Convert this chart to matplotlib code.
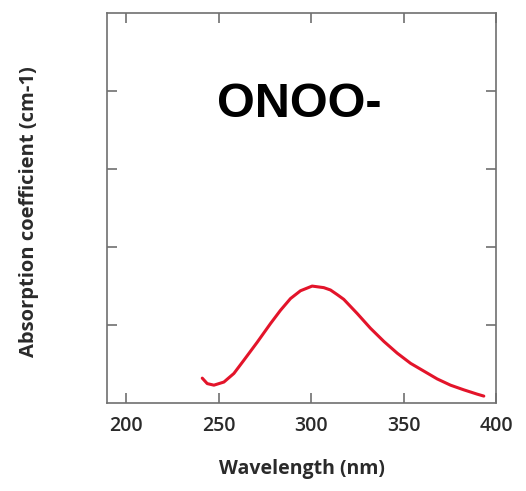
import numpy as np
import matplotlib
matplotlib.use("Agg")
import matplotlib.pyplot as plt

# ONOO- absorption spectrum
wavelength = [241.2, 243.9, 247.5, 252.9, 258.3, 263.7, 270.9, 278.1, 283.5,
              288.9, 294.3, 300.6, 306.9, 310.5, 314.2, 317.7, 324.9, 332.1,
              339.4, 346.6, 353.8, 361.0, 368.2, 375.4, 382.6, 389.8, 393.4]
absorption = [0.32, 0.25, 0.23, 0.27, 0.38, 0.55, 0.78, 1.02, 1.19,
              1.34, 1.44, 1.50, 1.48, 1.45, 1.39, 1.33, 1.15, 0.96,
              0.79, 0.64, 0.51, 0.41, 0.31, 0.23, 0.17, 0.115, 0.09]
xticks = [200, 250, 300, 350, 400]
yticks = [1, 2, 3, 4]

fig = plt.figure(figsize=(5.26, 4.91), dpi=100)
ax = fig.add_axes([0.2034, 0.179, 0.7396, 0.7945])

ax.plot(wavelength, absorption, color="#e3142a", lw=2.2,
        solid_capstyle="round", solid_joinstyle="round")

ax.set_xlim(189.7, 400)
ax.set_ylim(0, 5)
ax.set_xticks(xticks)
ax.set_yticks(yticks)
ax.set_yticklabels([])
ax.tick_params(direction="in", top=True, right=True, length=7, width=1.2,
               color="#707070", labelsize=14, labelcolor="#2a2a2a", pad=9)
for lab in ax.get_xticklabels():
    lab.set_fontfamily("Open Sans")
    lab.set_fontweight("semibold")
for s in ax.spines.values():
    s.set_color("#707070")
    s.set_linewidth(1.2)

ax.set_xlabel("Wavelength (nm)", fontsize=14, fontweight="bold",
              family="Open Sans", color="#2a2a2a")
ax.xaxis.set_label_coords(0.5, -0.143)
ax.set_ylabel("Absorption coefficient (cm-1)", fontsize=14.5, fontweight="bold",
              family="Open Sans", color="#2a2a2a")
ax.yaxis.set_label_coords(-0.175, 0.49)

ax.text(0.4936, 0.733, "ONOO-", transform=ax.transAxes, ha="center",
        va="baseline", fontsize=35, fontweight="bold",
        family="Liberation Sans", color="black")

fig.savefig("out.png", dpi=100)
